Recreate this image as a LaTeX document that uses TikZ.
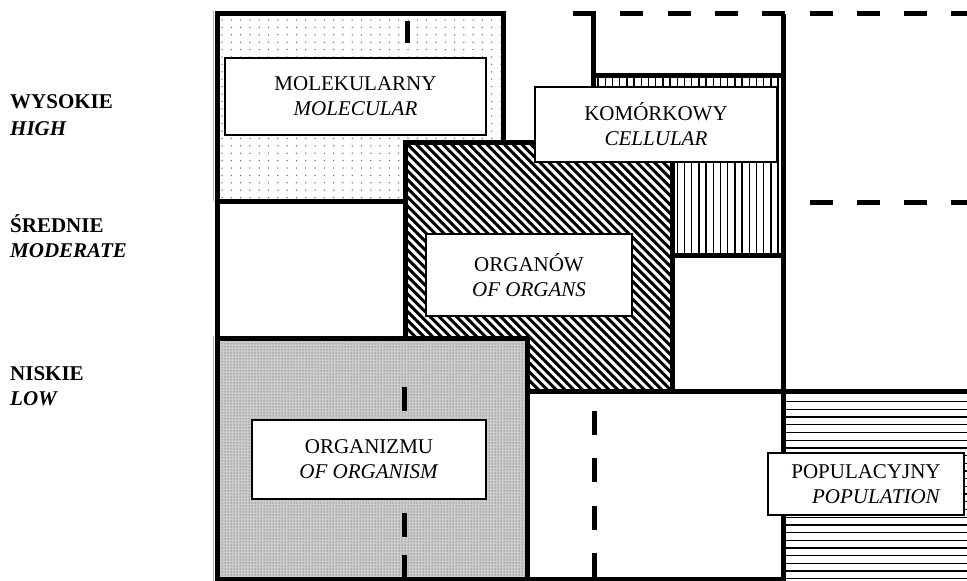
\documentclass[tikz,border=0pt]{standalone}
\usepackage{fontspec}
\setmainfont{Liberation Serif}
\usetikzlibrary{patterns}

\begin{document}
\begin{tikzpicture}[x=1pt, y=-1pt,
    every node/.style={font=\fontsize{21}{25}\selectfont},
    wall/.style={line width=5pt},
    dashwall/.style={line width=5pt, dash pattern=on 23pt off 24.3pt},
    lblbox/.style={draw, fill=white, line width=1.6pt, align=center, inner sep=0pt},
    lvl/.style={anchor=base west, inner sep=0pt, font=\fontsize{21}{25}\selectfont\bfseries}]
    \useasboundingbox (0,0) rectangle (967,581);

    % Region corners
    \coordinate (M1) at (217,13.5);  \coordinate (M2) at (503.5,201);
    \coordinate (C1) at (593,75);    \coordinate (C2) at (783,255);
    \coordinate (O1) at (405,142);   \coordinate (O2) at (672,391);
    \coordinate (Z1) at (217,338);   \coordinate (Z2) at (527,579);

    % Molecular level (sparse dots)
    \begin{scope}
        \clip (M1) rectangle (M2);
        \foreach \x in {222,231.3,...,503}
            \foreach \y in {20,27.4,...,201}
                \fill[gray!80!black] (\x,\y) circle (0.75pt);
    \end{scope}
    \draw[gray!60, line width=1.5pt] (213.5,11) -- (213.5,201);
    \draw[wall] (M1) rectangle (M2);
    \draw[line width=5pt] (407,21) -- (407,43);

    % Cellular level (vertical lines)
    \begin{scope}
        \clip (C1) rectangle (C2);
        \foreach \x in {598.1,605.3,...,783}
            \draw[line width=1.3pt] (\x,75) -- (\x,255);
    \end{scope}
    \draw[wall] (C1) rectangle (C2);

    % Organ level (diagonal lines)
    \fill[white] (O1) rectangle (O2);
    \begin{scope}
        \clip (O1) rectangle (O2);
        \foreach \a in {150,158.8,...,680}
            \draw[line width=3pt] (\a,142) -- ++(250,250);
    \end{scope}
    \draw[wall] (O1) rectangle (O2);

    % Empty middle cell
    \draw[wall] (217,201) rectangle (405,338);

    % Organism level (dense dots)
    \fill[gray!40] (Z1) rectangle (Z2);
    \fill[pattern=dots, pattern color=black!75] (Z1) rectangle (Z2);
    \draw[gray!60, line width=1.5pt] (213.5,336) -- (213.5,581);
    \draw[wall] (Z1) rectangle (Z2);
    \draw[line width=5pt, dash pattern=on 24pt off 18pt] (404,387) -- (404,581);

    % Empty bottom cell
    \draw[wall] (527,391) rectangle (783,579);
    \draw[line width=5pt, dash pattern=on 24pt off 23.3pt] (594,411) -- (594,579);

    % Population level (horizontal lines)
    \begin{scope}
        \clip (785.5,393.5) rectangle (967,581);
        \foreach \y in {401.7,409.4,...,581}
            \draw[line width=1.3pt] (785,\y) -- (967,\y);
    \end{scope}
    \draw[wall] (783,391) -- (967,391);

    % Upper frame lines
    \draw[wall] (593,13.5) -- (C1);
    \draw[wall] (783,13.5) -- (783,581);
    \draw[dashwall] (573,13.5) -- (967,13.5);
    \draw[dashwall] (809.5,202) -- (967,202);
    \draw[dashwall] (667.6,391) -- (783,391);

    % Level labels
    \node[lblbox, minimum width=261pt, minimum height=77pt] (molbox) at (355.5,96.5)
        {MOLEKULARNY\\\textit{MOLECULAR}};
    \node[lblbox, minimum width=242pt, minimum height=75pt] (celbox) at (656,124.5)
        {KOMÓRKOWY\\\textit{CELLULAR}};
    \node[lblbox, minimum width=206pt, minimum height=82pt] (orgbox) at (529,275)
        {ORGANÓW\\\textit{OF ORGANS}};
    \node[lblbox, minimum width=234pt, minimum height=79pt] (orgmbox) at (369,459.5)
        {ORGANIZMU\\\textit{OF ORGANISM}};
    \node[lblbox, align=right, minimum width=196pt, minimum height=62pt] (popbox) at (866,484)
        {POPULACYJNY\\\textit{POPULATION}};

    % Side scale
    \node[lvl] (wys) at (10,108) {WYSOKIE};
    \node[lvl] (high) at (10,135) {\itshape HIGH};
    \node[lvl] (sred) at (10,232) {ŚREDNIE};
    \node[lvl] (moder) at (10,257) {\itshape MODERATE};
    \node[lvl] (nisk) at (10,380) {NISKIE};
    \node[lvl] (low) at (10,405) {\itshape LOW};
\end{tikzpicture}
\end{document}
